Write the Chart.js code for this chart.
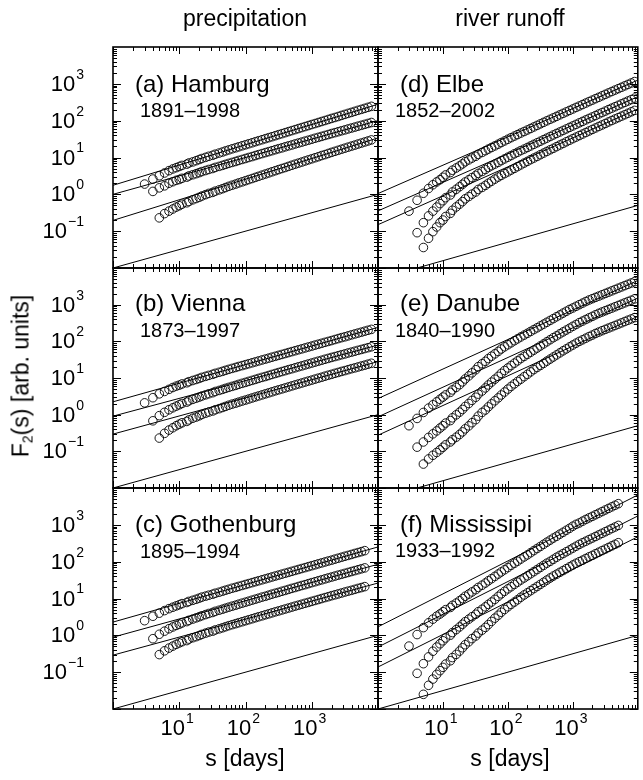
<!DOCTYPE html>
<html>
<head>
<meta charset="utf-8">
<title>Fluctuation functions: precipitation and river runoff</title>
<script src="https://cdn.jsdelivr.net/npm/chart.js@4.4.1/dist/chart.umd.min.js"></script>
<style>
  body { margin: 0; background: #fff; }
  #page {
    position: relative; width: 643px; height: 780px; overflow: hidden;
    font-family: "Liberation Sans", Arial, Helvetica, sans-serif; color: #000;
  }
  #page canvas { position: absolute; left: 0; top: 0; }
  .lbl { position: absolute; white-space: nowrap; line-height: 1; transform: translate(0, -50%); z-index: 2; }
  .ctr { transform: translate(-50%, -50%); }
  .name { font-size: 24px; }
  .years { font-size: 20px; }
  .ttl { font-size: 23px; }
  #ytitle { left: 22px; top: 376px; font-size: 23px; transform: translate(-50%, -50%) rotate(-90deg); }
  #ytitle sub { font-size: 14px; vertical-align: -4px; }
</style>
</head>
<body>
<div id="page">
  <div class="lbl ctr ttl" style="left:245px; top:18px">precipitation</div>
  <div class="lbl ctr ttl" style="left:510px; top:18px">river runoff</div>
  <div class="lbl ctr ttl" style="left:245px; top:758px">s [days]</div>
  <div class="lbl ctr ttl" style="left:510px; top:758px">s [days]</div>
  <div class="lbl" id="ytitle">F<sub>2</sub>(s) [arb. units]</div>

  <div class="lbl name" style="left:135px; top:84px">(a) Hamburg</div>
  <div class="lbl years" style="left:140px; top:110px">1891–1998</div>
  <div class="lbl name" style="left:135px; top:303px">(b) Vienna</div>
  <div class="lbl years" style="left:140px; top:330px">1873–1997</div>
  <div class="lbl name" style="left:135px; top:524px">(c) Gothenburg</div>
  <div class="lbl years" style="left:140px; top:551px">1895–1994</div>
  <div class="lbl name" style="left:400px; top:84px">(d) Elbe</div>
  <div class="lbl years" style="left:395px; top:110px">1852–2002</div>
  <div class="lbl name" style="left:400px; top:303px">(e) Danube</div>
  <div class="lbl years" style="left:395px; top:330px">1840–1990</div>
  <div class="lbl name" style="left:400px; top:524px">(f) Mississipi</div>
  <div class="lbl years" style="left:395px; top:550px">1933–1992</div>
</div>
<script>
// window sizes s (days) shared by all fluctuation functions
const S_DAYS = [3, 4, 5, 6, 7, 8, 9,
  10, 11, 13, 14, 16, 18, 20, 22, 25, 28,
  32, 35, 40, 45, 50, 56, 63, 71, 79, 89,
  100, 112, 126, 141, 158, 178, 200, 224, 251, 282,
  316, 355, 398, 447, 501, 562, 631, 708, 794, 891,
  1000, 1122, 1259, 1413, 1585, 1778, 1995, 2239, 2512, 2818,
  3162, 3548, 3981, 4467, 5012, 5623, 6310, 7079, 7943, 8913];

// s range of the straight lines
const FIT_S = [1, 10000];

// F2(s) per station: top, middle and bottom curve (null = no point at that s)
const HAMBURG_1 = [1.9, 2.6, 3.2, 3.8, 4.4, 4.9, 5.3,
  5.7, 6.1, 6.6, 7.1, 7.6, 8.2, 8.8, 9.4, 10.1, 10.8,
  11.5, 12.3, 13.2, 14.1, 15.1, 16.1, 17.2, 18.3, 19.5, 20.8,
  22.1, 23.6, 25.1, 26.8, 28.5, 30.4, 32.4, 34.5, 36.7, 39.1,
  41.7, 44.4, 47.3, 50.4, 53.7, 57.2, 61.0, 64.9, 69.2, 73.7,
  78.5, 83.6, 89.1, 94.9, 101, 108, 115, 122, 130, 139,
  148, 158, 168, 179, 191, 203, 216, 230, 245, null];
const HAMBURG_2 = [null, 1.2, 1.5, 1.7, 2.0, 2.2, 2.4,
  2.53, 2.72, 2.93, 3.16, 3.40, 3.64, 3.88, 4.15, 4.43, 4.73,
  5.03, 5.39, 5.74, 6.11, 6.51, 6.92, 7.36, 7.81, 8.32, 8.85,
  9.40, 10.0, 10.6, 11.3, 12.0, 12.8, 13.6, 14.4, 15.3, 16.3,
  17.3, 18.3, 19.5, 20.7, 21.9, 23.3, 24.7, 26.2, 27.8, 29.5,
  31.3, 33.3, 35.3, 37.4, 39.7, 42.1, 44.7, 47.3, 50.1, 53.1,
  56.2, 59.6, 63.1, 66.8, 70.8, 75.0, 79.4, 84.1, 89.1, null];
const HAMBURG_3 = [null, null, 0.23, 0.30, 0.35, 0.40, 0.45,
  0.49, 0.54, 0.59, 0.64, 0.71, 0.77, 0.83, 0.90, 0.98, 1.06,
  1.13, 1.22, 1.32, 1.42, 1.53, 1.65, 1.77, 1.90, 2.04, 2.18,
  2.34, 2.51, 2.69, 2.89, 3.09, 3.32, 3.56, 3.81, 4.09, 4.38,
  4.69, 5.02, 5.36, 5.75, 6.16, 6.59, 7.04, 7.53, 8.05, 8.61,
  9.21, 9.85, 10.5, 11.3, 12.0, 12.9, 13.8, 14.7, 15.7, 16.8,
  17.9, 19.1, 20.4, 21.7, 23.2, 24.7, 26.4, 28.1, 30.0, null];

const VIENNA_1 = [2.1, 2.9, 3.7, 4.3, 4.9, 5.5, 6.0,
  6.39, 6.88, 7.41, 7.95, 8.54, 9.13, 9.74, 10.4, 11.1, 11.8,
  12.6, 13.4, 14.3, 15.2, 16.2, 17.2, 18.3, 19.4, 20.6, 21.8,
  23.1, 24.5, 26.0, 27.5, 29.2, 31.0, 32.8, 34.8, 36.9, 39.1,
  41.5, 43.9, 46.6, 49.4, 52.4, 55.5, 58.8, 62.4, 66.1, 70.1,
  74.3, 78.8, 83.5, 88.5, 93.8, 99.5, 105, 112, 119, 126,
  133, 141, 150, 159, 168, 178, 189, 200, 212, null];
const VIENNA_2 = [null, 0.68, 0.94, 1.16, 1.36, 1.54, 1.71,
  1.86, 2.02, 2.20, 2.39, 2.61, 2.81, 3.01, 3.23, 3.47, 3.72,
  3.97, 4.29, 4.58, 4.89, 5.22, 5.55, 5.92, 6.29, 6.71, 7.15,
  7.60, 8.09, 8.61, 9.17, 9.76, 10.4, 11.0, 11.7, 12.5, 13.3,
  14.1, 15.0, 15.9, 16.9, 17.9, 19.0, 20.2, 21.4, 22.7, 24.1,
  25.6, 27.1, 28.8, 30.5, 32.4, 34.3, 36.4, 38.4, 40.6, 43.0,
  45.4, 48.1, 50.8, 53.7, 56.8, 60.1, 63.5, 67.2, 71.0, null];
const VIENNA_3 = [null, null, 0.23, 0.31, 0.38, 0.44, 0.50,
  0.55, 0.60, 0.655, 0.72, 0.80, 0.86, 0.93, 1.01, 1.10, 1.18,
  1.26, 1.36, 1.46, 1.57, 1.68, 1.81, 1.94, 2.06, 2.20, 2.35,
  2.50, 2.67, 2.85, 3.04, 3.24, 3.46, 3.69, 3.93, 4.19, 4.47,
  4.75, 5.05, 5.36, 5.71, 6.09, 6.47, 6.87, 7.31, 7.76, 8.25,
  8.76, 9.31, 9.90, 10.5, 11.2, 11.9, 12.6, 13.4, 14.2, 15.1,
  15.9, 16.9, 17.9, 18.9, 20.0, 21.2, 22.4, 23.8, 25.2, null];

const GOTHENBURG_1 = [2.5, 3.3, 4.0, 4.7, 5.3, 5.8, 6.3,
  6.76, 7.26, 7.79, 8.34, 8.93, 9.53, 10.2, 10.9, 11.6, 12.3,
  13.1, 13.9, 14.8, 15.8, 16.8, 17.8, 19.0, 20.1, 21.3, 22.6,
  24.0, 25.4, 27.0, 28.6, 30.3, 32.2, 34.1, 36.2, 38.4, 40.7,
  43.2, 45.8, 48.5, 51.5, 54.6, 57.9, 61.4, 65.1, 69.0, 73.2,
  77.6, 82.3, 87.3, 92.6, 98.2, 104, 110, 117, 124, 132,
  140, 148, 157, 167, 177, 187, 199, null, null, null];
const GOTHENBURG_2 = [null, 0.81, 1.07, 1.30, 1.51, 1.69, 1.86,
  2.00, 2.17, 2.36, 2.55, 2.77, 2.98, 3.19, 3.41, 3.66, 3.92,
  4.18, 4.49, 4.80, 5.12, 5.46, 5.81, 6.19, 6.58, 7.02, 7.47,
  7.95, 8.46, 9.01, 9.58, 10.2, 10.9, 11.5, 12.3, 13.1, 13.9,
  14.7, 15.7, 16.6, 17.7, 18.8, 19.9, 21.2, 22.5, 23.8, 25.3,
  26.9, 28.5, 30.3, 32.1, 34.1, 36.1, 38.3, 40.6, 43.0, 45.5,
  48.1, 51.0, 54.0, 57.1, 60.5, 64.0, 67.8, null, null, null];
const GOTHENBURG_3 = [null, null, 0.30, 0.38, 0.45, 0.51, 0.57,
  0.62, 0.67, 0.72, 0.79, 0.86, 0.92, 0.99, 1.06, 1.15, 1.23,
  1.30, 1.40, 1.50, 1.60, 1.71, 1.83, 1.95, 2.07, 2.20, 2.34,
  2.49, 2.65, 2.82, 3.00, 3.19, 3.39, 3.61, 3.83, 4.08, 4.34,
  4.60, 4.89, 5.18, 5.51, 5.85, 6.21, 6.59, 6.99, 7.41, 7.86,
  8.35, 8.85, 9.39, 9.96, 10.6, 11.2, 11.9, 12.6, 13.3, 14.1,
  15.0, 15.8, 16.7, 17.7, 18.8, 19.8, 21.0, null, null, null];

const ELBE_1 = [0.35, 0.69, 1.07, 1.44, 1.82, 2.17, 2.5,
  2.90, 3.37, 3.90, 4.52, 5.19, 5.90, 6.71, 7.67, 8.61, 9.65,
  10.8, 12.2, 13.7, 15.3, 16.9, 18.7, 20.7, 23.0, 25.5, 28.2,
  31.3, 34.6, 38.2, 41.9, 46.2, 50.8, 55.9, 61.4, 67.6, 74.5,
  81.9, 90.2, 99.1, 109, 119, 131, 144, 158, 173, 190,
  208, 229, 250, 274, 301, 330, 361, 395, 432, 473,
  519, 567, 619, 677, 740, 808, 883, 965, 1054, 1152];
const ELBE_2 = [null, 0.091, 0.17, 0.26, 0.35, 0.45, 0.56,
  0.67, 0.81, 0.96, 1.16, 1.37, 1.61, 1.87, 2.16, 2.49, 2.85,
  3.27, 3.71, 4.17, 4.73, 5.37, 5.97, 6.64, 7.38, 8.23, 9.16,
  10.2, 11.3, 12.6, 13.9, 15.4, 16.9, 18.7, 20.6, 22.8, 25.1,
  27.7, 30.5, 33.6, 37.1, 40.9, 45.0, 49.4, 54.3, 59.6, 65.7,
  72.1, 79.3, 87.1, 95.5, 105, 115, 126, 138, 152, 166,
  182, 200, 219, 239, 262, 286, 313, 342, 374, 409];
const ELBE_3 = [null, null, 0.036, 0.064, 0.097, 0.13, 0.17,
  0.20, 0.25, 0.305, 0.37, 0.455, 0.54, 0.635, 0.755, 0.87, 1.01,
  1.16, 1.36, 1.54, 1.75, 2.00, 2.27, 2.59, 2.94, 3.27, 3.65,
  4.07, 4.55, 5.07, 5.65, 6.31, 7.06, 7.87, 8.74, 9.67, 10.7,
  11.9, 13.2, 14.6, 16.2, 17.8, 19.7, 21.9, 24.1, 26.7, 29.5,
  32.5, 35.8, 39.4, 43.4, 47.7, 52.5, 57.7, 63.4, 69.7, 76.4,
  83.8, 92.3, 101, 111, 121, 133, 145, 159, 174, 190];

const DANUBE_1 = [0.50, 0.79, 1.15, 1.51, 1.86, 2.24, 2.63,
  3.02, 3.47, 4.07, 4.73, 5.56, 6.56, 7.82, 9.40, 11.4, 13.8,
  16.8, 20.4, 24.5, 28.5, 33.9, 39.3, 45.7, 53.1, 61.7, 71.0,
  80.7, 91.4, 104, 117, 132, 148, 166, 186, 209, 234,
  263, 295, 331, 372, 417, 468, 525, 589, 661, 741,
  813, 902, 1000, 1104, 1219, 1340, 1455, 1581, 1714, 1862,
  2023, 2193, 2382, 2588, 2812, 3048, 3311, 3597, 3899, 4236];
const DANUBE_2 = [null, 0.13, 0.18, 0.24, 0.30, 0.36, 0.43,
  0.50, 0.59, 0.69, 0.82, 0.99, 1.17, 1.39, 1.67, 2.02, 2.45,
  2.99, 3.63, 4.42, 5.35, 6.46, 7.73, 9.27, 11.1, 13.4, 16.0,
  18.8, 21.9, 25.4, 29.4, 34.0, 38.8, 44.3, 50.5, 57.5, 65.6,
  74.8, 85.3, 97.5, 111, 126, 141, 161, 181, 203, 228,
  257, 288, 324, 357, 394, 436, 480, 530, 581, 631,
  685, 743, 807, 877, 953, 1033, 1122, 1219, 1321, 1435];
const DANUBE_3 = [null, null, 0.045, 0.062, 0.078, 0.093, 0.11,
  0.129, 0.151, 0.180, 0.207, 0.243, 0.288, 0.339, 0.410, 0.495, 0.603,
  0.733, 0.912, 1.15, 1.34, 1.63, 1.97, 2.39, 2.87, 3.44, 4.15,
  4.98, 5.89, 6.92, 8.07, 9.29, 10.9, 12.6, 14.7, 17.0, 19.4,
  22.0, 25.1, 28.8, 32.8, 37.4, 42.7, 48.6, 55.3, 62.2, 70.6,
  79.4, 89.1, 100, 110, 122, 135, 148, 164, 179, 195,
  212, 230, 249, 271, 294, 319, 347, 377, 408, 444];

const MISSISSIPPI_1 = [0.51, 1.05, 1.62, 2.19, 2.75, 3.31, 3.8,
  4.37, 4.98, 5.71, 6.53, 7.50, 8.69, 9.93, 11.5, 13.2, 15.1,
  17.4, 20.0, 22.9, 26.3, 30.3, 34.5, 39.8, 46.0, 52.6, 60.3,
  69.3, 79.4, 90.6, 103, 118, 135, 153, 175, 200, 228,
  259, 296, 338, 384, 437, 490, 558, 627, 713, 805,
  918, 1033, 1122, 1259, 1400, 1545, 1702, 1879, 2075, 2291,
  2529, 2793, 3083, 3396, 3750, null, null, null, null, null];
const MISSISSIPPI_2 = [null, 0.093, 0.17, 0.26, 0.37, 0.48, 0.59,
  0.71, 0.845, 1.01, 1.19, 1.43, 1.69, 2.00, 2.35, 2.75, 3.20,
  3.73, 4.39, 5.09, 5.93, 6.92, 8.02, 9.48, 11.4, 13.4, 15.7,
  18.3, 20.9, 24.2, 27.7, 31.8, 36.2, 41.3, 47.1, 53.7, 61.2,
  69.8, 79.6, 91.0, 102, 116, 132, 148, 166, 186, 208,
  234, 262, 295, 326, 360, 397, 438, 483, 533, 589,
  650, 718, 793, 873, 964, null, null, null, null, null];
const MISSISSIPPI_3 = [null, null, 0.025, 0.044, 0.065, 0.087, 0.11,
  0.135, 0.166, 0.204, 0.249, 0.304, 0.374, 0.459, 0.555, 0.668, 0.813,
  0.962, 1.15, 1.38, 1.64, 1.96, 2.39, 2.93, 3.52, 4.24, 5.05,
  5.97, 6.93, 8.02, 9.25, 10.8, 12.5, 14.3, 16.3, 18.6, 21.2,
  24.2, 27.6, 31.6, 36.0, 40.7, 45.7, 51.3, 57.5, 64.6, 72.4,
  81.3, 90.6, 100, 110, 122, 135, 148, 164, 181, 200,
  220, 243, 269, 296, 327, null, null, null, null, null];

// straight lines: value at s = 1 and at s = 10^4 (three fits, then the slope-0.5 reference)
const HAMBURG_FITS = [[1.76, 279], [1.0, 100], [0.196, 34], [0.01, 1.0]];
const VIENNA_FITS = [[2.24, 240], [0.91, 79], [0.295, 28], [0.01, 1.0]];
const GOTHENBURG_FITS = [[2.29, 251], [0.89, 85], [0.29, 26.3], [0.01, 1.0]];
const ELBE_FITS = [[1.05, 1260], [0.355, 447], [0.15, 208], [0.005, 0.5]];
const DANUBE_FITS = [[2.75, 4570], [0.87, 1510], [0.275, 479], [0.005, 0.5]];
const MISSISSIPPI_FITS = [[1.7, 6460], [0.48, 1740], [0.138, 474], [0.01, 1.0]];

// panel placement on the page (plot-area edges in px)
const COL_X = [[113, 378], [378, 642]];
const ROW_Y = [[47, 268], [268, 488], [488, 709]];
const PAGE_W = 643, PAGE_H = 780;
const FONT = '"Liberation Sans", Arial, Helvetica, sans-serif';

const PANELS = [
  { col: 0, row: 0, series: [HAMBURG_1, HAMBURG_2, HAMBURG_3], fits: HAMBURG_FITS },
  { col: 0, row: 1, series: [VIENNA_1, VIENNA_2, VIENNA_3], fits: VIENNA_FITS },
  { col: 0, row: 2, series: [GOTHENBURG_1, GOTHENBURG_2, GOTHENBURG_3], fits: GOTHENBURG_FITS },
  { col: 1, row: 0, series: [ELBE_1, ELBE_2, ELBE_3], fits: ELBE_FITS },
  { col: 1, row: 1, series: [DANUBE_1, DANUBE_2, DANUBE_3], fits: DANUBE_FITS },
  { col: 1, row: 2, series: [MISSISSIPPI_1, MISSISSIPPI_2, MISSISSIPPI_3], fits: MISSISSIPPI_FITS },
];

// "10" with a raised exponent
function drawPower(ctx, k, x, y, align) {
  const exp = k < 0 ? "\u2212" + (-k) : String(k);
  ctx.font = "22px " + FONT;
  const bw = ctx.measureText("10").width;
  ctx.font = "14px " + FONT;
  const ew = ctx.measureText(exp).width;
  const total = bw + 1 + ew;
  const left = align === "right" ? x - total : x - total / 2;
  ctx.textAlign = "left";
  ctx.textBaseline = "middle";
  ctx.font = "22px " + FONT;
  ctx.fillText("10", left, y);
  ctx.font = "14px " + FONT;
  ctx.fillText(exp, left + bw + 1, y - 10);
}

// box, inward ticks on all four sides, decade labels on the outer panels
const framePlugin = {
  id: "frame",
  afterDatasetsDraw(chart, args, opts) {
    const { ctx, chartArea: a } = chart;
    const xs = chart.scales.x, ys = chart.scales.y;
    ctx.save();
    ctx.strokeStyle = "#000";
    ctx.fillStyle = "#000";
    ctx.lineWidth = 1;
    ctx.beginPath();
    for (let k = 0; k <= 3; k++) {
      for (let m = 1; m <= 9; m++) {
        const px = Math.round(xs.getPixelForValue(m * Math.pow(10, k))) + 0.5;
        const len = m === 1 ? 7 : 4;
        ctx.moveTo(px, a.bottom); ctx.lineTo(px, a.bottom - len);
        ctx.moveTo(px, a.top); ctx.lineTo(px, a.top + len);
      }
    }
    for (let k = -2; k <= 3; k++) {
      for (let m = 1; m <= 9; m++) {
        const py = Math.round(ys.getPixelForValue(m * Math.pow(10, k))) + 0.5;
        const len = m === 1 ? 8 : 4;
        ctx.moveTo(a.left, py); ctx.lineTo(a.left + len, py);
        ctx.moveTo(a.right, py); ctx.lineTo(a.right - len, py);
      }
    }
    ctx.stroke();
    ctx.lineWidth = 1.6;
    ctx.strokeRect(a.left, a.top, a.right - a.left, a.bottom - a.top);

    if (opts.yLabels) {
      for (let k = -1; k <= 3; k++) {
        drawPower(ctx, k, a.left - 29, ys.getPixelForValue(Math.pow(10, k)) + 1, "right");
      }
    }
    if (opts.xLabels) {
      for (let k = 1; k <= 3; k++) {
        drawPower(ctx, k, xs.getPixelForValue(Math.pow(10, k)) - 2, a.bottom + 20, "center");
      }
    }
    ctx.restore();
  },
};

function makePanel(p) {
  const page = document.getElementById("page");
  const canvas = document.createElement("canvas");
  canvas.width = PAGE_W;
  canvas.height = PAGE_H;
  page.appendChild(canvas);

  const [x0, x1] = COL_X[p.col];
  const [y0, y1] = ROW_Y[p.row];
  const datasets = [];

  p.fits.forEach((f) => {
    datasets.push({
      data: [{ x: FIT_S[0], y: f[0] }, { x: FIT_S[1], y: f[1] }],
      showLine: true,
      borderColor: "#000",
      borderWidth: 1,
      pointRadius: 0,
    });
  });

  p.series.forEach((vals) => {
    const pts = [];
    S_DAYS.forEach((s, i) => {
      if (vals[i] !== null) pts.push({ x: s, y: vals[i] });
    });
    datasets.push({
      data: pts,
      showLine: false,
      pointRadius: 4.3,
      pointBorderWidth: 0.9,
      pointBorderColor: "#000",
      pointBackgroundColor: "rgba(0,0,0,0)",
    });
  });

  new Chart(canvas, {
    type: "scatter",
    data: { datasets },
    options: {
      responsive: false,
      animation: false,
      events: [],
      layout: { padding: { left: x0, right: PAGE_W - x1, top: y0, bottom: PAGE_H - y1 } },
      scales: {
        x: { type: "logarithmic", min: 1, max: 10000, display: false },
        y: { type: "logarithmic", min: 0.01, max: 10000, display: false },
      },
      plugins: {
        legend: { display: false },
        tooltip: { enabled: false },
        frame: { yLabels: p.col === 0, xLabels: p.row === 2 },
      },
    },
    plugins: [framePlugin],
  });
}

PANELS.forEach(makePanel);
</script>
</body>
</html>
